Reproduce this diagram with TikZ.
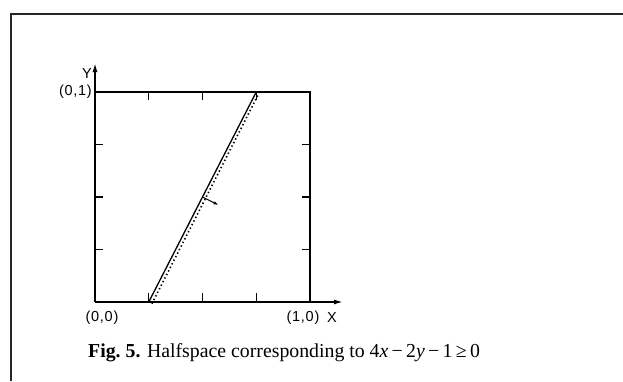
\documentclass[tikz,border=0pt]{standalone}
\usepackage{fontspec}
\setmainfont{Liberation Serif}
\newfontfamily\labfont[LetterSpace=5]{Liberation Sans}
\usetikzlibrary{arrows.meta,calc}
\begin{document}
\begin{tikzpicture}[x=1pt,y=-1pt,
  frameline/.style={line width=2pt,black!85},
  boxline/.style={line width=1.5pt},
  tickline/.style={line width=1.3pt},
  axisarrow/.style={line width=1.5pt,-{Latex[length=9pt,width=5pt]}},
  lab/.style={inner sep=0pt,font=\labfont\fontsize{14.5}{16}\selectfont},
  halfline/.style={line width=1.3pt},
  dotline/.style={line width=1.6pt,dash pattern=on 1.4pt off 2.6pt},
  normalarrow/.style={line width=1pt,-{Latex[length=5pt,width=3.5pt]}}]
\useasboundingbox (0,0) rectangle (623,381);
\fill[white] (0,0) rectangle (623,381);
% frame
\coordinate (fbl) at (11,381);
\coordinate (ftl) at (11,14);
\coordinate (ftr) at (623,14);
\draw[frameline] (fbl) -- (ftl) -- (ftr);
% box
\coordinate (O) at (95,302);
\coordinate (A) at (310,302);
\coordinate (B) at (95,92);
\coordinate (C) at (310,92);
\coordinate (Xtip) at (343,302);
\coordinate (Ytip) at (95,63);
\draw[axisarrow] (O) -- (Xtip);
\draw[axisarrow] (O) -- (Ytip);
\draw[boxline] (B) -- (C) -- (A);
% ticks
\foreach \i in {1,2,3}{
  \draw[tickline] ($(O)!\i/4!(A)$) -- ++(0,-9);
  \draw[tickline] ($(B)!\i/4!(C)$) -- ++(0,8);
  \draw[tickline] ($(O)!\i/4!(B)$) -- ++(8,0);
  \draw[tickline] ($(A)!\i/4!(C)$) -- ++(-8,0);
}
% halfspace boundary
\coordinate (P) at ($(O)!0.25!(A)$);
\coordinate (Q) at ($(B)!0.75!(C)$);
\draw[halfline] (P) -- (Q);
\coordinate (Pd) at ($(P)+(3.2,1.6)$);
\coordinate (Qd) at ($(Q)+(2.6,1.4)$);
\draw[dotline] (Pd) -- (Qd);
\coordinate (M) at ($(P)!0.5!(Q)$);
\coordinate (N) at ($(M)+(16,8)$);
\draw[normalarrow] (M) -- (N);
% labels
\node[lab,anchor=east] (l01) at (92,92) {(0,1)};
\node[lab] (l00) at (102,318) {(0,0)};
\node[lab] (l10) at (303,318) {(1,0)};
\node[lab] (lx) at (332,318) {X};
\node[lab] (ly) at (87,74) {Y};
% caption
\node[inner sep=0pt,anchor=base west,font=\fontsize{19.8}{22}\selectfont] (cap) at (88,357)
  {\textbf{Fig.\ 5.} Halfspace corresponding to 4\textit{x}\,−\,2\textit{y}\,−\,1\,≥\,0};
\end{tikzpicture}
\end{document}
